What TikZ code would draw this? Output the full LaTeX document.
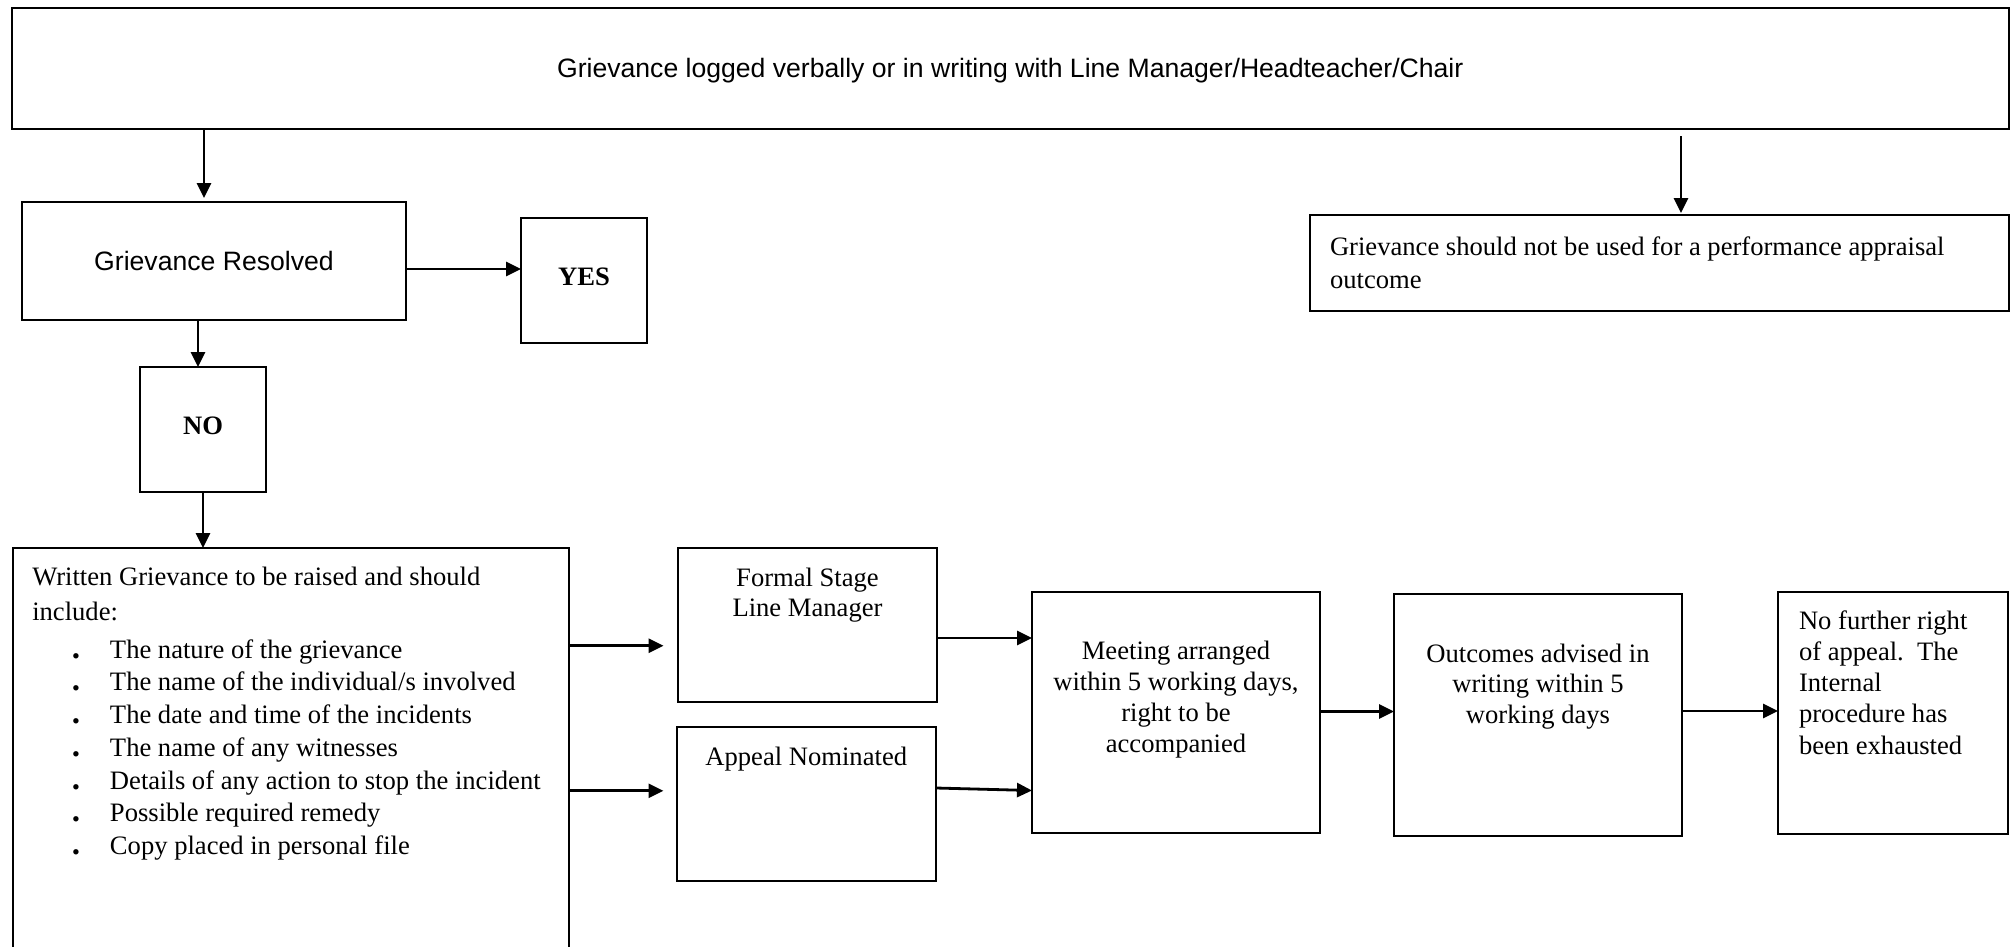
\documentclass[tikz,border=0pt]{standalone}
\usepackage{fontspec}
\usepackage{graphicx}
\setmainfont{Liberation Serif}
\newfontfamily\arialfont{Liberation Sans}
\usetikzlibrary{arrows.meta}
\newcommand\mybox[4]{\begin{minipage}[t][#2][#3]{#1}\parskip=0pt\relax #4\end{minipage}}
\newcommand\bitem[1]{\hspace*{63.5pt}\makebox[0pt]{\scalebox{1.25}{\bfseries .}}\hspace*{34pt}#1}
\begin{document}
\begin{tikzpicture}[x=1pt,y=-1pt,
  box/.style={draw, line width=2pt, inner sep=0pt, outer sep=0pt, anchor=north west,
    font=\fontsize{26.6pt}{32.7pt}\selectfont},
  arr/.style={line width=2.8pt, -{Triangle[length=15pt,width=14pt]}}]
\useasboundingbox (0,0) rectangle (2013,946);
\clip (0,0) rectangle (2013,946);

\node[box] (top) at (11.5,7.5) {\mybox{1997.5pt}{121pt}{t}{\vspace*{50.6pt}\centering\arialfont Grievance logged verbally or in writing with Line Manager/Headteacher/Chair}};
\node[box] (gr) at (22,202) {\mybox{384pt}{118pt}{c}{\centering\arialfont Grievance Resolved}};
\node[box] (yes) at (521,218) {\mybox{126pt}{125pt}{t}{\vspace*{50pt}\centering\bfseries YES}};
\node[box] (no) at (140,367) {\mybox{126pt}{125pt}{t}{\vspace*{50pt}\centering\bfseries NO}};
\node[box] (pf) at (1310,214.5) {\mybox{699pt}{96pt}{t}{\vspace*{22.3pt}\leftskip=20pt\baselineskip=33.2pt Grievance should not be used for a performance appraisal\\outcome}};

\node[box] (wr) at (12.5,548) {\mybox{556.5pt}{430pt}{t}{\vspace*{18.8pt}\baselineskip=32.7pt
\hspace*{19.8pt}Written Grievance to be raised and should\\[3pt]
\hspace*{19.8pt}include:\\[4.6pt]
\bitem{The nature of the grievance}\\
\bitem{The name of the individual/s involved}\\
\bitem{The date and time of the incidents}\\
\bitem{The name of any witnesses}\\
\bitem{Details of any action to stop the incident}\\
\bitem{Possible required remedy}\\
\bitem{Copy placed in personal file}}};

\node[box] (fs) at (678,548) {\mybox{259pt}{154pt}{t}{\vspace*{19.8pt}\centering\baselineskip=30pt Formal Stage\\Line Manager}};
\node[box] (ap) at (676.5,727) {\mybox{259.5pt}{154pt}{t}{\vspace*{19.8pt}\centering Appeal Nominated}};
\node[box] (mt) at (1032,592) {\mybox{288pt}{241pt}{t}{\vspace*{48.8pt}\centering\baselineskip=31pt Meeting arranged\\within 5 working days,\\right to be\\accompanied}};
\node[box] (oc) at (1394,593.5) {\mybox{288pt}{242pt}{t}{\vspace*{50.3pt}\centering\baselineskip=30.5pt Outcomes advised in\\writing within 5\\working days}};
\node[box] (nf) at (1778,592) {\mybox{230pt}{242pt}{t}{\vspace*{18.3pt}\leftskip=21pt\baselineskip=31.3pt No further right\\of appeal.\ \ The\\Internal\\procedure has\\been exhausted}};

\coordinate (c1) at ([xshift=-10pt]gr.north);
\draw[arr, shorten >=4pt] (c1 |- top.south) -- (c1);
\coordinate (c2) at ([xshift=21.5pt]pf.north);
\draw[arr, shorten <=7.5pt, shorten >=1.5pt] (c2 |- top.south) -- (c2);
\coordinate (c3) at ([yshift=-8pt]gr.east);
\draw[arr] (c3) -- (c3 -| yes.west);
\coordinate (c4) at ([xshift=-16pt]gr.south);
\draw[arr] (c4) -- (c4 |- no.north);
\draw[arr] (no.south) -- (no.south |- wr.north);
\coordinate (c5) at ([yshift=117.3pt]wr.east);
\draw[arr, shorten >=14.5pt] (c5) -- (c5 -| fs.west);
\coordinate (c6) at ([yshift=-27.8pt]wr.east);
\draw[arr, shorten >=13pt] (c6) -- (c6 -| ap.west);
\coordinate (c7) at ([yshift=-13pt]fs.east);
\draw[arr] (c7) -- (c7 -| mt.west);
\draw[arr] ([yshift=16pt]ap.east) -- ([yshift=-78pt]mt.west);
\coordinate (c8) at ([yshift=1pt]mt.east);
\draw[arr] (c8) -- (c8 -| oc.west);
\coordinate (c9) at ([yshift=3.5pt]oc.east);
\draw[arr] (c9) -- (c9 -| nf.west);
\end{tikzpicture}
\end{document}
